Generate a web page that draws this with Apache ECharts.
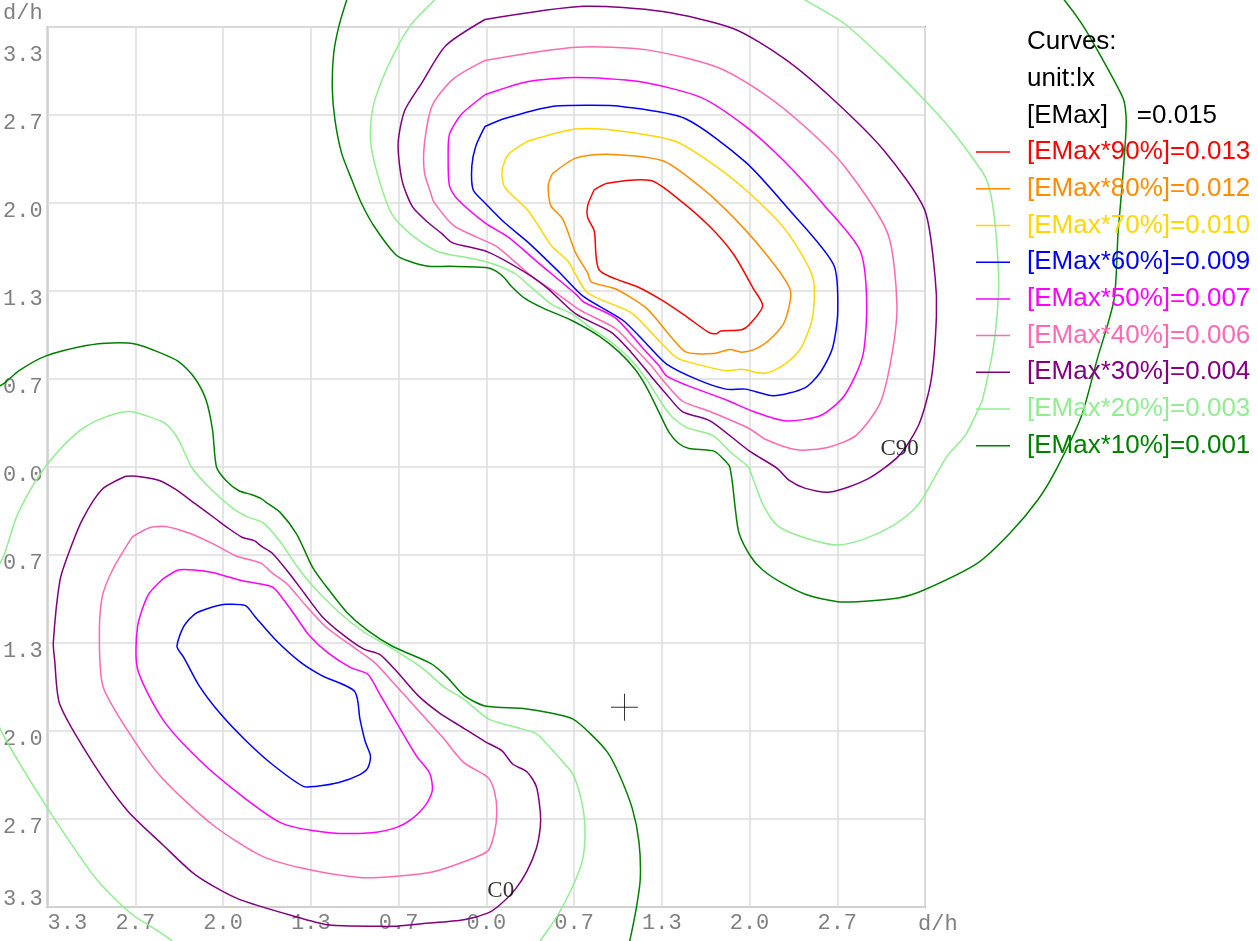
<!DOCTYPE html>
<html>
<head>
<meta charset="utf-8">
<script src="https://cdn.jsdelivr.net/npm/echarts@6/dist/echarts.min.js"></script>
<style>
html,body{margin:0;padding:0;background:#ffffff;}
#chart{width:1258px;height:941px;}
</style>
</head>
<body>
<div id="chart"></div>
<script>
// ---------- axis ----------
const STEP = 2 / 3;               // grid step in d/h
const AXIS_MIN = -5 * STEP;
const AXIS_MAX = 5 * STEP;
const axisName = 'd/h';

// ---------- legend texts ----------
const headerLines = ['Curves:', 'unit:lx'];
const emaxValue = '0.015';
const levelPercents = [90, 80, 70, 60, 50, 40, 30, 20, 10];
const levelValues = ['0.013', '0.012', '0.010', '0.009', '0.007', '0.006', '0.004', '0.003', '0.001'];
const levelColors = ['#ff0000', '#ff8c00', '#ffd700', '#0000ff', '#ff00ff', '#ff69b4', '#800080', '#90ee90', '#008000'];

// ---------- contour curves (d/h) : C90 cluster ----------
const c90Top = [[0.82,2.10],[0.92,2.15],[1.25,2.17],[1.46,2.03],[1.70,1.82],[1.88,1.61],[2.03,1.35],[2.10,1.22],[2.00,1.08],[1.94,1.04],[1.78,1.03],[1.75,1.01],[1.69,1.02],[1.52,1.14],[1.34,1.26],[1.16,1.36],[0.86,1.49],[0.82,1.79],[0.77,1.89],[0.77,1.98],[0.82,2.10]];
const c80Top = [[0.50,2.22],[0.68,2.34],[0.92,2.37],[1.34,2.32],[1.58,2.16],[1.82,1.95],[2.12,1.62],[2.31,1.34],[2.27,1.11],[2.18,0.99],[2.06,0.90],[1.94,0.87],[1.85,0.89],[1.73,0.86],[1.52,0.87],[1.40,0.99],[1.22,1.20],[0.98,1.35],[0.80,1.40],[0.77,1.47],[0.68,1.62],[0.58,1.88],[0.49,1.98],[0.47,2.13],[0.50,2.22]];
const c70Top = [[0.32,2.47],[0.68,2.56],[0.98,2.55],[1.43,2.47],[1.70,2.31],[1.97,2.10],[2.27,1.80],[2.48,1.44],[2.48,1.14],[2.39,0.90],[2.27,0.78],[2.12,0.71],[1.94,0.74],[1.82,0.73],[1.52,0.80],[1.43,0.84],[1.28,0.99],[1.10,1.17],[0.77,1.32],[0.62,1.56],[0.50,1.67],[0.32,1.94],[0.14,2.12],[0.12,2.25],[0.17,2.37],[0.32,2.47]];
const c60Top = [[-0.01,2.58],[0.14,2.64],[0.49,2.73],[0.80,2.74],[1.04,2.73],[1.51,2.64],[1.97,2.31],[2.30,1.95],[2.64,1.53],[2.67,1.17],[2.63,0.90],[2.54,0.72],[2.42,0.60],[2.18,0.54],[1.97,0.59],[1.82,0.59],[1.61,0.66],[1.37,0.78],[1.22,0.93],[1.04,1.11],[0.74,1.29],[0.56,1.47],[0.32,1.70],[0.14,1.85],[-0.01,2.00],[-0.10,2.10],[-0.11,2.28],[-0.08,2.43],[-0.01,2.58]];
const c50Top = [[-0.01,2.82],[0.32,2.92],[0.68,2.95],[1.16,2.92],[1.63,2.80],[1.97,2.58],[2.27,2.31],[2.57,1.98],[2.84,1.64],[2.89,1.26],[2.86,0.84],[2.72,0.54],[2.54,0.39],[2.27,0.35],[2.03,0.42],[1.82,0.51],[1.52,0.62],[1.37,0.69],[1.31,0.77],[1.19,0.90],[0.98,1.13],[0.74,1.25],[0.68,1.31],[0.38,1.56],[0.17,1.74],[-0.01,1.85],[-0.22,2.03],[-0.28,2.13],[-0.29,2.34],[-0.28,2.52],[-0.19,2.67],[-0.01,2.82]];
const c40Top = [[-0.01,3.08],[0.68,3.18],[1.22,3.16],[1.75,3.03],[2.12,2.82],[2.42,2.58],[2.72,2.28],[3.05,1.77],[3.12,1.23],[3.08,0.84],[2.99,0.48],[2.81,0.24],[2.60,0.15],[2.36,0.13],[2.12,0.21],[2.00,0.29],[1.70,0.42],[1.49,0.50],[1.34,0.66],[1.25,0.77],[1.10,0.93],[0.98,1.05],[0.71,1.19],[0.53,1.32],[0.35,1.44],[0.08,1.67],[-0.07,1.74],[-0.25,1.83],[-0.40,2.01],[-0.42,2.07],[-0.47,2.23],[-0.47,2.45],[-0.41,2.74],[-0.25,2.94],[-0.01,3.08]];
const c30Top = [[-0.01,3.39],[0.74,3.49],[1.34,3.45],[1.88,3.32],[2.27,3.09],[2.63,2.79],[3.02,2.40],[3.33,1.95],[3.41,1.44],[3.42,1.14],[3.38,0.66],[3.29,0.33],[3.14,0.09],[2.90,-0.09],[2.61,-0.19],[2.42,-0.16],[2.30,-0.10],[2.21,-0.01],[2.00,0.12],[1.70,0.35],[1.49,0.42],[1.37,0.55],[1.25,0.69],[1.10,0.87],[0.95,1.02],[0.68,1.16],[0.47,1.35],[0.32,1.46],[0.01,1.63],[-0.26,1.70],[-0.34,1.77],[-0.44,1.85],[-0.56,1.97],[-0.64,2.17],[-0.67,2.45],[-0.62,2.70],[-0.49,2.91],[-0.31,3.19],[-0.01,3.39]];
const c20Top = [[-0.39,3.54],[-0.58,3.34],[-0.75,3.03],[-0.86,2.73],[-0.88,2.48],[-0.83,2.23],[-0.72,1.92],[-0.57,1.76],[-0.39,1.64],[-0.28,1.61],[-0.02,1.56],[0.21,1.47],[0.32,1.38],[0.50,1.23],[0.65,1.16],[0.80,1.05],[0.97,0.93],[1.10,0.81],[1.22,0.66],[1.31,0.52],[1.40,0.39],[1.52,0.30],[1.72,0.24],[1.87,0.10],[1.99,0.00],[2.03,-0.10],[2.11,-0.30],[2.22,-0.45],[2.43,-0.54],[2.66,-0.59],[2.86,-0.55],[3.08,-0.45],[3.24,-0.33],[3.32,-0.23],[3.50,0.08],[3.64,0.24],[3.74,0.44],[3.77,0.51],[3.85,0.89],[3.89,1.27],[3.89,1.52],[3.85,1.97],[3.79,2.20],[3.52,2.57],[3.32,2.79],[3.02,3.09],[2.72,3.36],[2.42,3.54],[2.08,3.77],[1.02,3.96],[-0.04,3.77],[-0.39,3.54]];
const c10Top = [[-1.06,3.54],[-1.12,3.34],[-1.16,3.13],[-1.17,2.86],[-1.15,2.63],[-1.10,2.38],[-1.02,2.17],[-0.95,2.00],[-0.85,1.82],[-0.69,1.61],[-0.59,1.56],[-0.44,1.52],[-0.28,1.52],[0.01,1.51],[0.08,1.48],[0.14,1.43],[0.19,1.37],[0.29,1.28],[0.44,1.20],[0.65,1.11],[0.86,0.99],[1.01,0.87],[1.13,0.74],[1.22,0.60],[1.31,0.42],[1.39,0.26],[1.46,0.18],[1.54,0.14],[1.73,0.12],[1.83,0.03],[1.85,0.00],[1.87,-0.12],[1.89,-0.30],[1.92,-0.50],[2.01,-0.68],[2.10,-0.78],[2.25,-0.88],[2.44,-0.97],[2.67,-1.02],[2.82,-1.02],[3.14,-0.99],[3.33,-0.93],[3.73,-0.73],[3.98,-0.50],[4.19,-0.25],[4.33,-0.02],[4.52,0.38],[4.64,0.81],[4.77,1.27],[4.80,1.77],[4.83,2.12],[4.86,2.54],[4.86,2.67],[4.84,2.79],[4.67,3.11],[4.53,3.35],[4.39,3.54],[4.13,3.84],[3.14,4.37],[1.63,4.60],[0.11,4.30],[-0.80,3.84],[-1.06,3.54]];

// ---------- contour curves (d/h) : C0 cluster ----------
const c60Bottom = [[-2.08,-1.06],[-1.98,-1.04],[-1.83,-1.05],[-1.76,-1.13],[-1.60,-1.31],[-1.41,-1.48],[-1.25,-1.58],[-1.00,-1.70],[-0.96,-1.91],[-0.92,-2.08],[-0.88,-2.19],[-0.90,-2.28],[-0.96,-2.33],[-1.12,-2.39],[-1.30,-2.42],[-1.39,-2.42],[-1.63,-2.25],[-1.83,-2.07],[-2.02,-1.87],[-2.18,-1.66],[-2.30,-1.44],[-2.35,-1.36],[-2.30,-1.21],[-2.21,-1.11],[-2.08,-1.06]];
const c50Bottom = [[-2.46,-0.85],[-2.34,-0.78],[-2.22,-0.78],[-2.08,-0.80],[-1.86,-0.86],[-1.65,-0.90],[-1.60,-0.93],[-1.47,-1.10],[-1.35,-1.27],[-1.20,-1.41],[-1.03,-1.52],[-0.90,-1.57],[-0.81,-1.72],[-0.68,-1.94],[-0.53,-2.19],[-0.43,-2.32],[-0.41,-2.45],[-0.46,-2.56],[-0.57,-2.67],[-0.68,-2.73],[-0.87,-2.77],[-1.19,-2.77],[-1.55,-2.70],[-1.86,-2.49],[-2.18,-2.22],[-2.46,-1.91],[-2.65,-1.53],[-2.65,-1.21],[-2.57,-0.97],[-2.46,-0.85]];
const c40Bottom = [[-2.69,-0.53],[-2.56,-0.46],[-2.44,-0.45],[-2.26,-0.50],[-2.06,-0.59],[-1.91,-0.67],[-1.71,-0.73],[-1.63,-0.80],[-1.51,-0.89],[-1.38,-1.04],[-1.22,-1.21],[-1.03,-1.35],[-0.85,-1.48],[-0.71,-1.63],[-0.52,-1.84],[-0.33,-2.05],[-0.17,-2.24],[0.01,-2.35],[0.06,-2.45],[0.08,-2.61],[0.06,-2.78],[0.01,-2.91],[-0.17,-2.99],[-0.42,-3.07],[-0.68,-3.10],[-0.96,-3.11],[-1.35,-3.05],[-1.70,-2.95],[-2.08,-2.71],[-2.46,-2.36],[-2.69,-2.05],[-2.91,-1.67],[-2.94,-1.32],[-2.92,-0.99],[-2.84,-0.78],[-2.69,-0.53]];
const c30Bottom = [[-2.74,-0.07],[-2.66,-0.07],[-2.49,-0.10],[-2.36,-0.17],[-2.21,-0.28],[-2.06,-0.39],[-1.98,-0.45],[-1.86,-0.53],[-1.76,-0.56],[-1.71,-0.60],[-1.63,-0.65],[-1.51,-0.79],[-1.38,-0.96],[-1.25,-1.13],[-1.09,-1.27],[-0.93,-1.38],[-0.81,-1.42],[-0.68,-1.55],[-0.52,-1.73],[-0.36,-1.86],[-0.17,-1.98],[-0.01,-2.08],[0.12,-2.15],[0.20,-2.25],[0.31,-2.31],[0.38,-2.42],[0.41,-2.61],[0.41,-2.73],[0.38,-2.89],[0.31,-3.06],[0.22,-3.20],[0.10,-3.32],[0.01,-3.38],[-0.17,-3.43],[-0.49,-3.46],[-0.71,-3.48],[-0.81,-3.48],[-1.19,-3.47],[-1.40,-3.42],[-1.89,-3.27],[-2.21,-3.09],[-2.46,-2.86],[-2.73,-2.60],[-2.99,-2.24],[-3.24,-1.80],[-3.28,-1.46],[-3.29,-1.33],[-3.24,-0.86],[-3.18,-0.67],[-3.07,-0.40],[-2.92,-0.17],[-2.74,-0.07]];
const c20Bottom = [[-1.02,-4.04],[-2.31,-3.74],[-2.39,-3.59],[-2.69,-3.39],[-2.92,-3.17],[-3.04,-3.02],[-3.35,-2.56],[-3.67,-2.03],[-3.98,-1.31],[-3.67,-0.68],[-3.57,-0.38],[-3.42,-0.10],[-3.27,0.10],[-3.07,0.29],[-2.89,0.38],[-2.71,0.42],[-2.56,0.38],[-2.44,0.33],[-2.34,0.21],[-2.24,0.00],[-2.11,-0.15],[-1.93,-0.31],[-1.81,-0.38],[-1.70,-0.42],[-1.57,-0.56],[-1.44,-0.75],[-1.32,-0.90],[-1.12,-1.10],[-0.93,-1.25],[-0.74,-1.36],[-0.49,-1.52],[-0.33,-1.66],[-0.17,-1.76],[0.02,-1.91],[0.22,-1.97],[0.38,-2.02],[0.47,-2.11],[0.57,-2.22],[0.66,-2.33],[0.73,-2.56],[0.75,-2.78],[0.73,-2.98],[0.66,-3.17],[0.54,-3.40],[0.41,-3.59],[0.30,-3.77],[-1.02,-4.04]];
const c10Bottom = [[-3.90,0.51],[-3.67,0.63],[-3.55,0.73],[-3.35,0.84],[-3.04,0.92],[-2.84,0.94],[-2.66,0.93],[-2.49,0.87],[-2.34,0.80],[-2.22,0.68],[-2.13,0.51],[-2.08,0.28],[-2.05,0.00],[-1.98,-0.10],[-1.88,-0.18],[-1.78,-0.21],[-1.71,-0.24],[-1.67,-0.27],[-1.57,-0.34],[-1.44,-0.51],[-1.32,-0.76],[-1.22,-0.90],[-1.06,-1.10],[-0.90,-1.24],[-0.71,-1.36],[-0.42,-1.49],[-0.30,-1.59],[-0.17,-1.73],[-0.01,-1.81],[0.28,-1.83],[0.47,-1.86],[0.66,-1.91],[0.79,-2.02],[0.92,-2.16],[1.01,-2.33],[1.11,-2.59],[1.16,-2.84],[1.17,-3.12],[1.14,-3.34],[1.09,-3.59],[1.02,-3.89]];

const curvesC90 = [c90Top, c80Top, c70Top, c60Top, c50Top, c40Top, c30Top, c20Top, c10Top];
const curvesC0 = [null, null, null, c60Bottom, c50Bottom, c40Bottom, c30Bottom, c20Bottom, c10Bottom];

// ---------- annotations ----------
const planeLabels = [['C90', 3.14, 0.14], ['C0', 0.11, -3.21]];
const crossPoint = [[1.05, -1.82]];

// ---------- build ----------
const isMax = v => Math.abs(v - AXIS_MAX) < 1e-6;
const fmt = v => Math.abs(v).toFixed(1);

function curveSeries(name, curve, color) {
  return {
    type: 'custom', name: name, coordinateSystem: 'cartesian2d',
    data: curve, encode: { x: 0, y: 1 }, clip: false, silent: true, z: 3,
    renderItem: function (params, api) {
      if (params.dataIndex !== 0) return null;
      return {
        type: 'polyline',
        shape: { points: curve.map(p => api.coord(p)), smooth: 0.25 },
        style: { stroke: color, lineWidth: 1.5, fill: 'none' }
      };
    }
  };
}

const series = [];
levelPercents.forEach((p, i) => {
  const name = '[EMax*' + p + '%]=' + levelValues[i];
  [curvesC90[i], curvesC0[i]].forEach(d => { if (d) series.push(curveSeries(name, d, levelColors[i])); });
});
series.push({
  type: 'scatter', data: planeLabels.map(a => ({ name: a[0], value: [a[1], a[2]] })),
  symbol: 'circle', symbolSize: 1, itemStyle: { color: 'transparent' }, silent: true, z: 4,
  label: { show: true, position: 'inside', formatter: '{b}', color: '#000',
    fontFamily: 'Liberation Serif', fontSize: 23 }
});
series.push({
  type: 'scatter', data: crossPoint, symbol: 'path://M13,0L13,26M0,13L26,13', symbolSize: 27,
  itemStyle: { color: 'transparent', borderColor: '#000', borderWidth: 1 }, silent: true, z: 4
});

const graphic = [];
const LX = 1027, LY0 = 42, LDY = 36.7;
const headTexts = headerLines.concat(['[EMax]    =' + emaxValue]);
headTexts.forEach((t, i) => {
  graphic.push({ type: 'text', x: LX, y: LY0 + i * LDY, z: 10,
    style: { text: t, fill: '#000', fontSize: 26, fontFamily: 'Liberation Sans', align: 'left', verticalAlign: 'middle' } });
});
levelPercents.forEach((p, i) => {
  const y = LY0 + (i + 3) * LDY;
  graphic.push({ type: 'line', z: 10, shape: { x1: 976, y1: y, x2: 1010, y2: y },
    style: { stroke: levelColors[i], lineWidth: 1.5 } });
  graphic.push({ type: 'text', x: LX, y: y, z: 10,
    style: { text: '[EMax*' + p + '%]=' + levelValues[i], fill: levelColors[i], fontSize: 26,
      fontFamily: 'Liberation Sans', align: 'left', verticalAlign: 'middle' } });
});

const axisLabelFont = { color: '#808080', fontFamily: 'Liberation Mono', fontSize: 22 };

const option = {
  backgroundColor: '#ffffff',
  animation: false,
  grid: { left: 45, top: 27, width: 880, height: 880, show: true, borderColor: '#aaaaaa', borderWidth: 2, backgroundColor: 'transparent' },
  xAxis: {
    type: 'value', min: AXIS_MIN, max: AXIS_MAX, interval: STEP,
    name: axisName, nameLocation: 'end', nameGap: -7,
    nameTextStyle: Object.assign({}, axisLabelFont, { align: 'left', verticalAlign: 'top', padding: [6, 0, 0, 0] }),
    axisLine: { show: false, onZero: false }, axisTick: { show: false },
    splitLine: { show: true, lineStyle: { color: '#dcdcdc', width: 1.5 } },
    axisLabel: Object.assign({}, axisLabelFont, {
      margin: 6, lineHeight: 20, alignMinLabel: 'left',
      formatter: v => isMax(v) ? '' : fmt(v)
    })
  },
  yAxis: {
    type: 'value', min: AXIS_MIN, max: AXIS_MAX, interval: STEP,
    name: axisName, nameLocation: 'end', nameGap: 3,
    nameTextStyle: Object.assign({}, axisLabelFont, { align: 'right', verticalAlign: 'bottom', padding: [0, 5, 0, 0] }),
    axisLine: { show: false, onZero: false }, axisTick: { show: false },
    splitLine: { show: true, lineStyle: { color: '#dcdcdc', width: 1.5 } },
    axisLabel: Object.assign({}, axisLabelFont, {
      margin: 5, lineHeight: 16, verticalAlign: 'top', verticalAlignMinLabel: 'bottom',
      formatter: v => isMax(v) ? '{t|' + fmt(v) + '}' : fmt(v),
      rich: { t: { lineHeight: 56, color: '#808080', fontFamily: 'Liberation Mono', fontSize: 22 } }
    })
  },
  graphic: graphic,
  series: series
};

const chart = echarts.init(document.getElementById('chart'), null, { renderer: 'canvas' });
chart.setOption(option);
</script>
</body>
</html>
